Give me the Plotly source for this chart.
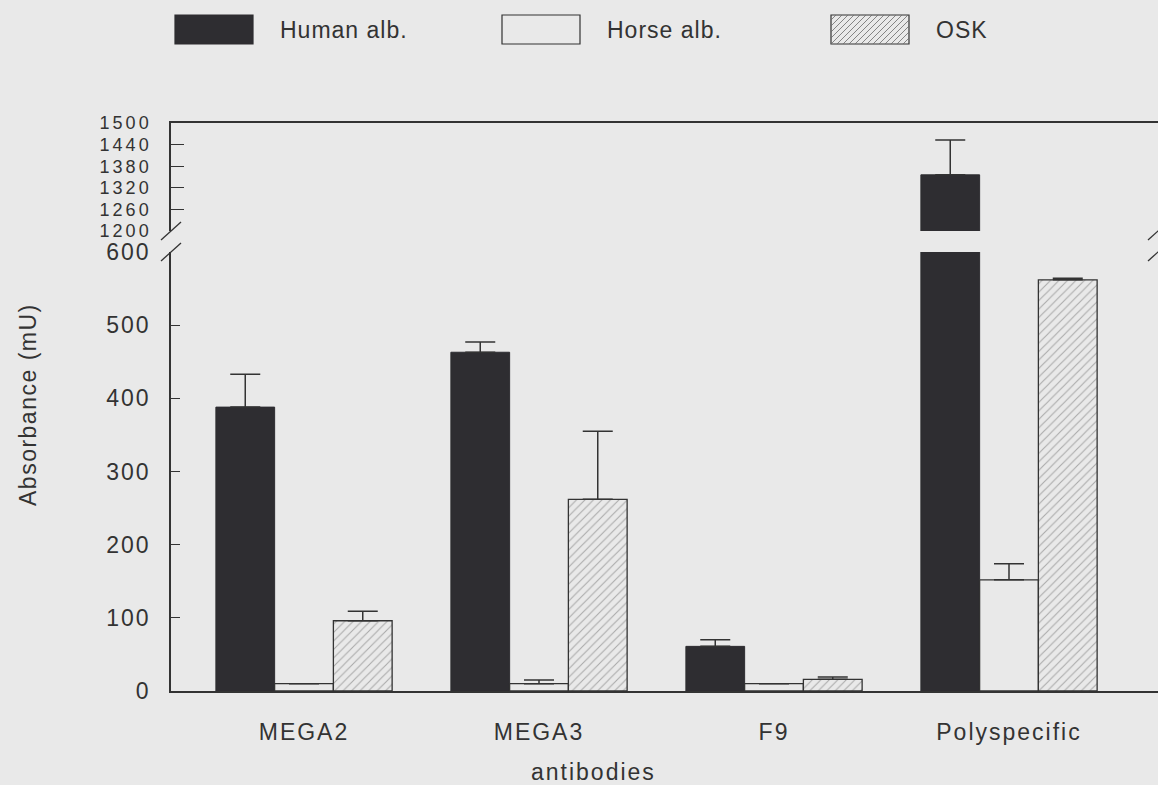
import plotly.graph_objects as go

# ---- data ----
categories = ["MEGA2", "MEGA3", "F9", "Polyspecific"]
human_alb = [388, 463, 61, 1356]
human_err = [45, 14, 9, 97]
horse_alb = [10, 10, 10, 152]
horse_err = [None, 5, None, 22]
osk = [96, 262, 16, 562]
osk_err = [13, 93, 3, 2]
lower_ticks = [0, 100, 200, 300, 400, 500, 600]
upper_ticks = [1200, 1260, 1320, 1380, 1440, 1500]

# ---- style / layout constants ----
W, H = 1158, 785
L, R, T, B = 171, 0, 123, 94
PW, PH = W - L - R, H - T - B
BG = "#e9e9e9"
DARK = "#2e2d31"
INK = "#333333"
FONT = "Liberation Sans"
LOW_TOP_PX, UP_BOT_PX = 252, 231


def sp(txt, ls=2):
    return f'<span style="letter-spacing:{ls}px">{txt}</span>'


def px_x(px):
    return (px - L) / PW


def px_y(py):
    return (H - B - py) / PH


low_dom = [0, px_y(LOW_TOP_PX)]
up_dom = [px_y(UP_BOT_PX), 1]

xr = [(L - 304) / 235, (W - R - 304) / 235]

err_common = dict(color=INK, thickness=1.5, width=15, symmetric=False)


def errs(a):
    return dict(type="data", array=a, arrayminus=[0] * len(a), **err_common)


fig = go.Figure()
for ax in [("x", "y"), ("x2", "y2")]:
    fig.add_trace(go.Bar(
        x=categories, y=human_alb, xaxis=ax[0], yaxis=ax[1],
        offset=-0.375, width=0.25,
        marker=dict(color=DARK, line=dict(color=DARK, width=1)),
        error_y=errs(human_err), showlegend=False, name="Human alb."))

fig.add_trace(go.Bar(
    x=categories, y=horse_alb, offset=-0.125, width=0.25,
    marker=dict(color=BG, line=dict(color=INK, width=1.3)),
    error_y=errs(horse_err), showlegend=False, name="Horse alb."))

fig.add_trace(go.Bar(
    x=categories, y=osk, offset=0.125, width=0.25,
    marker=dict(color=BG, line=dict(color=INK, width=1.3),
                pattern=dict(shape="/", fgcolor="#6a6a6a", bgcolor=BG,
                             size=6, solidity=0.18)),
    error_y=errs(osk_err), showlegend=False, name="OSK"))

tickfont = dict(family=FONT, size=23, color=INK)

fig.update_layout(
    width=W, height=H,
    margin=dict(l=L, r=R, t=T, b=B, pad=0),
    paper_bgcolor=BG, plot_bgcolor=BG,
    barmode="overlay",
    showlegend=False,
    xaxis=dict(domain=[0, 1], anchor="y", range=xr, type="category",
               categoryorder="array", categoryarray=categories,
               tickvals=categories, ticktext=[sp(c) for c in categories],
               showline=True, linecolor=INK, linewidth=1.5,
               ticks="", showgrid=False, zeroline=False,
               tickfont=tickfont, ticklabelstandoff=20),
    xaxis2=dict(domain=[0, 1], anchor="y2", range=xr, type="category",
                categoryorder="array", categoryarray=categories,
                matches="x", side="top",
                showline=True, linecolor=INK, linewidth=1.5,
                ticks="", showticklabels=False, showgrid=False, zeroline=False),
    yaxis=dict(domain=low_dom, anchor="x", range=[0, 600],
               tickvals=lower_ticks, ticktext=[sp(v) for v in lower_ticks],
               ticks="inside", ticklen=9, tickcolor=INK, tickwidth=1.3,
               showline=True, linecolor=INK, linewidth=1.5,
               showgrid=False, zeroline=False,
               tickfont=tickfont, ticklabelstandoff=14),
    yaxis2=dict(domain=up_dom, anchor="x2", range=[1200, 1500],
                tickvals=upper_ticks, ticktext=[sp(v, 3) for v in upper_ticks],
                ticks="inside", ticklen=13, tickcolor=INK, tickwidth=1.3,
                showline=True, linecolor=INK, linewidth=1.5,
                showgrid=False, zeroline=False,
                tickfont=dict(family=FONT, size=18, color=INK),
                ticklabelstandoff=14),
)

shapes = []
# axis break marks
for xc in (L, W - R):
    for yc in (UP_BOT_PX, LOW_TOP_PX):
        shapes.append(dict(type="line", xref="paper", yref="paper",
                           x0=px_x(xc - 10), x1=px_x(xc + 10),
                           y0=px_y(yc + 9), y1=px_y(yc - 9),
                           line=dict(color=INK, width=1.3)))

# legend
legend_items = [("Human alb.", 175, "solid"), ("Horse alb.", 502, "open"), ("OSK", 831, "hatch")]
ly0, ly1 = 15, 44
bw = 78
annotations = []
for label, bx, kind in legend_items:
    fill = DARK if kind == "solid" else BG
    shapes.append(dict(type="rect", xref="paper", yref="paper",
                       x0=px_x(bx), x1=px_x(bx + bw), y0=px_y(ly1), y1=px_y(ly0),
                       fillcolor=fill, line=dict(color=DARK if kind == "solid" else INK, width=1.2),
                       layer="above"))
    if kind == "hatch":
        x0, x1, y0, y1 = bx, bx + bw, ly0, ly1
        path = ""
        c = x0 + y0 + 5
        while c < x1 + y1:
            xa = max(x0, c - y1)
            xb = min(x1, c - y0)
            if xb > xa:
                path += f"M{px_x(xa)},{px_y(c - xa)} L{px_x(xb)},{px_y(c - xb)} "
            c += 6
        shapes.append(dict(type="path", xref="paper", yref="paper", path=path,
                           line=dict(color="#6a6a6a", width=0.8), layer="above"))
    annotations.append(dict(text=sp(label, 1), xref="paper", yref="paper",
                            x=px_x(bx + bw + 25), y=px_y(30), xanchor="left", yanchor="middle",
                            showarrow=False, font=dict(family=FONT, size=23, color=INK)))

annotations.append(dict(text=sp("Absorbance (mU)", 1.5), xref="paper", yref="paper",
                        x=px_x(28), y=px_y(405), xanchor="center", yanchor="middle",
                        textangle=-90, showarrow=False,
                        font=dict(family=FONT, size=23, color=INK)))
annotations.append(dict(text=sp("antibodies", 2), xref="paper", yref="paper",
                        x=px_x(593), y=px_y(772), xanchor="center", yanchor="middle",
                        showarrow=False, font=dict(family=FONT, size=23, color=INK)))

fig.update_layout(shapes=shapes, annotations=annotations)
fig.write_html("out.html", config={"displayModeBar": False},
               post_script="document.body.style.margin='0';document.body.style.overflow='hidden';")
